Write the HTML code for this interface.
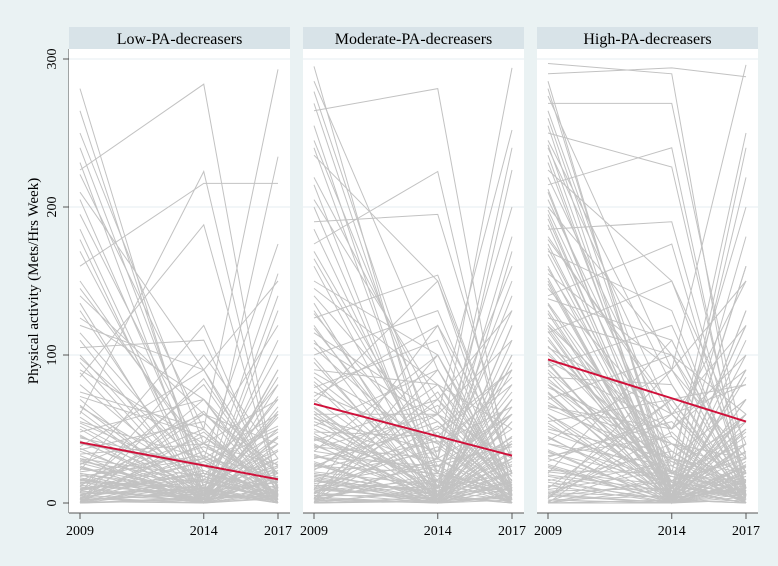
<!DOCTYPE html>
<html><head><meta charset="utf-8"><style>
body{margin:0;background:#eaf2f3;}
svg{display:block;font-family:"Liberation Serif",serif;}
</style></head><body>
<svg id="chart" width="778" height="566"></svg>
<script>
const years=[2009,2014,2017];
const yTicks=[0,100,200,300];
const panelTitles=["Low-PA-decreasers","Moderate-PA-decreasers","High-PA-decreasers"];
const fitStart=[41,67,97];
const fitEnd=[16,32,55];
const lowSeries=[[280,5,30],[265,10,2],[240,20,8],[225,283,5],[222,50,293],[210,90,10],[195,30,60],[185,5,234],[170,12,40],[160,216,216],[150,30,0],[140,60,25],[130,6,3],[120,90,150],[115,20,10],[105,110,5],[100,8,70],[95,3,15],[90,40,120],[85,188,8],[80,10,30],[75,50,5],[70,0,90],[65,15,2],[60,224,10],[58,5,60],[55,30,175],[50,2,8],[48,70,20],[45,10,100],[42,3,5],[40,25,50],[38,90,0],[35,5,30],[33,40,12],[30,0,80],[28,15,3],[26,60,40],[24,2,10],[22,120,5],[20,8,155],[18,30,20],[16,0,60],[15,50,2],[14,10,25],[12,5,110],[11,80,8],[10,0,40],[9,20,5],[8,3,15],[7,100,30],[6,10,0],[5,40,70],[5,2,10],[4,15,3],[3,60,20],[3,0,130],[2,25,5],[2,8,45],[1,0,12],[1,35,2],[0,10,25],[0,70,8],[0,3,90],[12,45,6],[20,5,35],[30,18,0],[25,0,18],[8,28,52],[16,6,14],[250,40,5],[230,5,50],[205,15,3],[178,2,20],[145,35,5],[135,0,45],[125,70,2],[110,5,85],[98,25,0],[88,0,35],[72,45,12],[66,2,65],[54,18,4],[46,0,28],[36,55,0],[27,6,72],[19,0,8],[13,38,15],[7,4,58],[3,22,0],[1,12,36],[0,48,4],[4,0,22],[9,30,0],[17,2,44],[23,14,2],[32,0,12],[41,8,0],[6,20,10],[2,6,18],[0,16,6],[11,0,3],[15,10,30],[21,32,6],[29,4,24],[37,0,6],[44,26,2],[52,8,14],[62,0,4],[10,16,48],[14,2,8],[5,28,3],[0,4,62],[3,40,26],[8,62,4],[1,18,80],[0,2,140],[2,84,10],[6,9,1],[19,1,17],[24,7,0]];
const modSeries=[[295,5,40],[285,90,10],[278,30,294],[265,280,5],[240,10,60],[235,150,20],[220,60,252],[200,5,225],[190,195,30],[175,224,8],[165,20,130],[150,100,5],[140,45,90],[130,10,240],[125,154,20],[120,5,0],[115,60,110],[110,0,30],[105,30,200],[100,130,10],[95,5,60],[90,80,5],[85,20,150],[80,0,40],[78,110,2],[75,40,80],[70,10,20],[68,150,5],[65,5,100],[60,60,10],[58,0,120],[55,25,40],[52,90,3],[50,10,70],[48,45,0],[45,3,25],[42,70,130],[40,0,15],[38,30,60],[35,100,5],[32,8,40],[30,50,90],[28,0,10],[25,20,0],[22,80,50],[20,5,20],[18,35,160],[15,0,5],[14,60,30],[12,10,80],[10,2,15],[9,120,5],[8,25,60],[7,0,100],[6,45,10],[5,5,35],[4,15,0],[3,70,20],[2,0,70],[1,30,5],[0,10,45],[0,90,10],[0,2,120],[45,15,8],[60,5,45],[25,55,12],[15,8,30],[35,22,3],[270,20,8],[255,5,70],[245,40,2],[215,0,30],[205,70,5],[185,10,180],[170,25,0],[160,5,55],[145,80,15],[135,0,95],[128,30,5],[118,15,140],[108,55,0],[98,0,22],[88,40,65],[82,8,2],[72,120,30],[62,2,12],[57,35,85],[47,0,4],[43,18,50],[37,60,0],[33,4,28],[27,0,110],[23,42,8],[19,6,0],[13,28,38],[11,0,6],[7,52,18],[5,12,75],[3,0,2],[1,8,26],[0,30,0],[0,4,16],[2,20,8],[4,0,55],[6,75,0],[9,3,34],[16,0,14],[21,12,4],[26,2,42],[31,25,0],[39,6,10],[44,0,65],[53,14,6],[64,4,0],[10,38,2],[17,1,20],[24,66,8],[8,16,44],[2,48,6],[0,1,90],[3,100,12],[12,0,170],[18,2,3]];
const highSeries=[[297,290,5],[290,294,288],[280,10,60],[275,90,296],[270,270,30],[260,20,250],[250,227,10],[240,60,120],[235,5,240],[225,150,20],[215,240,5],[205,30,200],[200,100,60],[195,0,130],[185,190,10],[180,60,80],[175,10,220],[170,130,5],[160,5,40],[155,90,150],[150,0,10],[145,50,100],[140,175,5],[135,20,60],[130,5,180],[125,100,20],[120,40,0],[118,0,90],[115,150,40],[110,10,120],[105,60,5],[100,30,70],[95,0,20],[92,120,10],[90,15,50],[85,80,0],[80,5,110],[78,40,30],[75,0,160],[70,100,5],[68,20,40],[65,50,90],[60,3,10],[55,70,0],[52,10,60],[50,30,20],[45,0,130],[42,90,8],[40,15,30],[35,0,70],[32,45,5],[30,5,100],[28,60,15],[25,0,40],[22,20,0],[20,110,10],[18,5,60],[15,35,5],[12,0,25],[10,70,80],[8,10,0],[6,40,20],[5,0,50],[4,15,5],[3,90,30],[2,5,10],[1,30,70],[0,0,15],[0,60,5],[0,10,120],[80,20,8],[120,8,35],[60,12,4],[40,25,55],[285,5,20],[265,30,2],[255,0,90],[245,80,5],[230,10,45],[220,45,0],[210,2,160],[198,20,12],[188,0,70],[178,65,3],[168,8,30],[158,25,0],[148,0,55],[138,110,8],[128,4,25],[122,35,2],[112,0,40],[102,15,5],[96,50,150],[88,0,12],[82,28,0],[74,3,85],[66,40,6],[58,0,28],[48,18,2],[44,6,48],[36,0,8],[31,55,0],[26,2,18],[21,12,34],[16,0,2],[11,28,12],[7,4,40],[4,48,0],[2,0,26],[0,18,8],[0,2,60],[3,70,4],[6,0,14],[9,22,3],[14,2,90],[19,8,0],[24,0,22],[34,14,6],[54,2,0],[64,30,14],[72,6,24],[84,12,2],[94,0,6],[106,20,14],[116,2,0],[134,6,10],[152,0,4],[172,14,2],[192,4,8],[212,0,16],[242,8,0]];
const allSeries=[lowSeries,modSeries,highSeries];

const NS="http://www.w3.org/2000/svg";
const svg=document.getElementById('chart');
function mk(tag,attrs,parent){const e=document.createElementNS(NS,tag);for(const k in attrs)e.setAttribute(k,attrs[k]);(parent||svg).appendChild(e);return e;}
const panelLeft=[69,303,537],panelW=221,plotTop=49,axisY=513;
function yScale(v){return 503-v*(444/300);}
function xScale(p,yr){return panelLeft[p]+11+(yr-2009)*(198/8);}

const yAxis=mk('line',{x1:69,y1:plotTop,x2:69,y2:axisY,stroke:'#555','stroke-width':1});


yTicks.forEach(t=>{
  const y=yScale(t);
  const tk=mk('line',{x1:63,y1:y,x2:69,y2:y,stroke:'#555'});
  
  
  const lb=mk('text',{x:56,y:y,'font-size':14,'text-anchor':'middle',transform:`rotate(-90 56 ${y})`,fill:'#000'});
  lb.textContent=t;
  
  
});
const yt=mk('text',{x:38,y:281,'font-size':15,'text-anchor':'middle',transform:'rotate(-90 38 281)',fill:'#000'});
yt.textContent='Physical activity (Mets/Hrs Week)';



allSeries.forEach((series,p)=>{
  const L=panelLeft[p];
  const g=mk('g',{});
  
  
  mk('rect',{x:L,y:plotTop,width:panelW,height:axisY-plotTop,fill:'#fff'},g);
  const hd=mk('rect',{x:L,y:27,width:panelW,height:22,fill:'#d8e3e8'},g);
  
  
  const ht=mk('text',{x:L+panelW/2,y:44,'font-size':16,'text-anchor':'middle',fill:'#000'},g);
  ht.textContent=panelTitles[p];
  
  
  yTicks.forEach(t=>{if(t>0){mk('line',{x1:L,y1:yScale(t),x2:L+panelW,y2:yScale(t),stroke:'#e6eef2','stroke-width':1},g);}});
  series.forEach(s=>{
    const pts=s.map((v,i)=>xScale(p,years[i])+','+yScale(v)).join(' ');
    const pl=mk('polyline',{points:pts,fill:'none',stroke:'#c2c2c2','stroke-width':1},g);
    
    
  });
  const fl=mk('line',{x1:xScale(p,2009),y1:yScale(fitStart[p]),x2:xScale(p,2017),y2:yScale(fitEnd[p]),stroke:'#d0103a','stroke-width':2},g);
  
  
  const xa=mk('line',{x1:L,y1:axisY,x2:L+panelW,y2:axisY,stroke:'#555'},g);
  
  
  years.forEach(yr=>{
    const x=xScale(p,yr);
    mk('line',{x1:x,y1:axisY,x2:x,y2:axisY+6,stroke:'#555'},g);
    const tl=mk('text',{x:x,y:535,'font-size':14,'text-anchor':'middle',fill:'#000'},g);
    tl.textContent=yr;
    
    
  });
});
</script>
</body></html>
